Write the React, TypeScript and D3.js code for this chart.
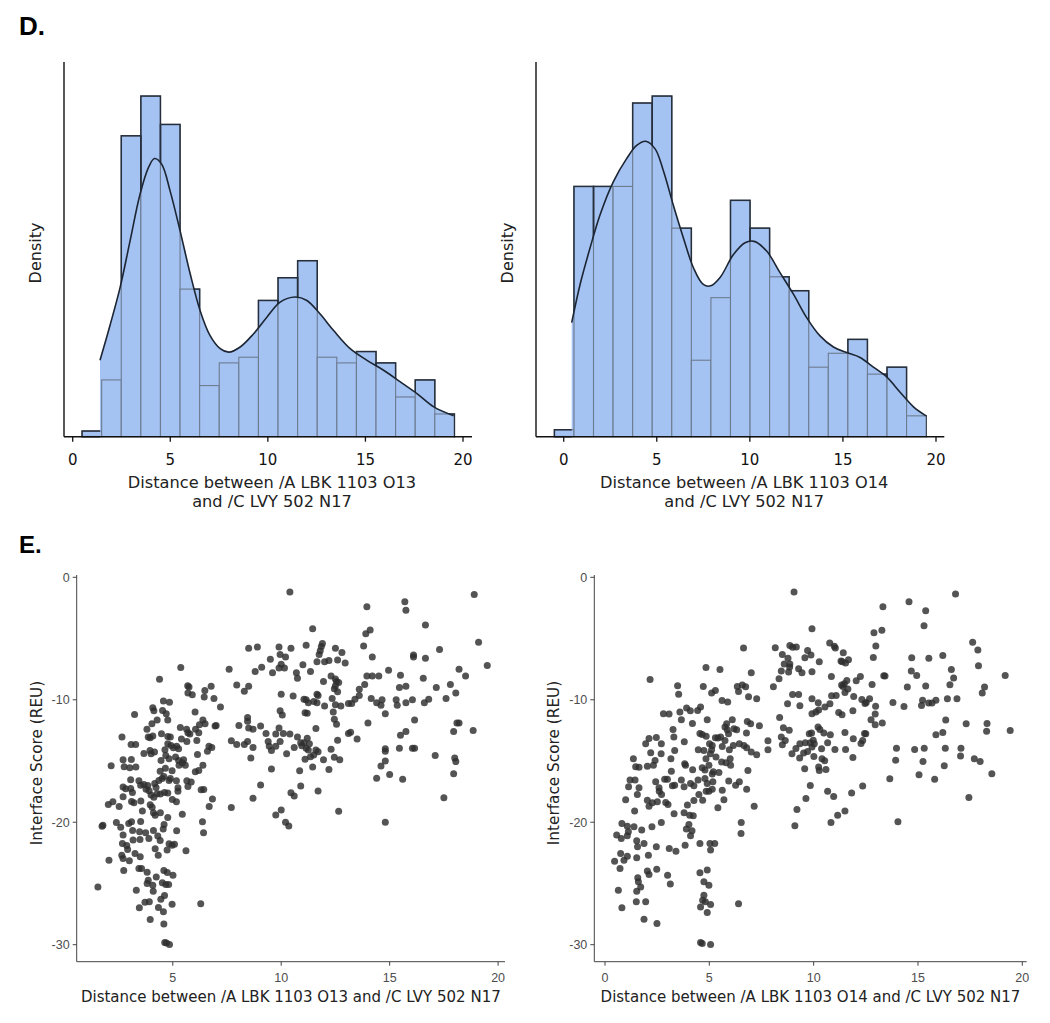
import React from "react";
import * as d3 from "d3";

document.body.style.margin = "0";

// ---------- data ----------
const histTicks = [0, 5, 10, 15, 20];
const scatterYTicks = [0, -10, -20, -30];
const o13XTicks = [5, 10, 15, 20];
const o14XTicks = [0, 5, 10, 15, 20];

// histogram bins (counts per bin), O13
const o13BinRange = [0.48, 19.56];
const o13Counts = [1, 10, 53, 60, 55, 26, 9, 13, 14, 24, 28, 31, 14, 13, 15, 13, 7, 10, 4];
// density curve, same units as counts
const o13Kde: [number, number][] = [
  [1.4, 13.45], [1.91, 19.6], [2.43, 26.3], [2.94, 34.5], [3.45, 42.7], [3.88, 47.4],
  [4.19, 49.0], [4.56, 48.0], [4.99, 43.3], [5.5, 36.3], [6.02, 28.7], [6.53, 22.2],
  [7.04, 17.8], [7.56, 15.5], [8.0, 14.9], [8.58, 15.8], [9.26, 18.1], [9.95, 21.05],
  [10.63, 23.7], [11.4, 24.6], [12.0, 24.0], [12.68, 21.6], [13.37, 18.7], [14.22, 15.5],
  [15.08, 13.45], [15.93, 11.7], [16.79, 9.65], [17.64, 7.6], [18.5, 5.26], [19.52, 3.7],
];

// O14
const o14BinRange = [-0.5, 19.47];
const o14Counts = [1, 36, 36, 36, 48, 49, 30, 11, 20, 34, 30, 23, 21, 10, 12, 14, 9, 10, 3];
const o14Kde: [number, number][] = [
  [0.43, 16.4], [0.88, 21.9], [1.41, 27.1], [1.95, 31.9], [2.67, 36.7], [3.38, 40.0],
  [3.92, 41.9], [4.41, 42.5], [4.91, 41.4], [5.35, 38.3], [5.89, 33.3], [6.43, 28.6],
  [6.97, 24.3], [7.5, 21.9], [7.9, 21.7], [8.4, 22.9], [9.12, 26.2], [9.74, 27.9],
  [10.23, 28.1], [10.9, 26.7], [11.62, 23.6], [12.34, 20.5], [13.06, 17.1], [13.77, 14.5],
  [14.49, 12.9], [15.2, 12.1], [15.92, 11.4], [16.64, 10.0], [17.35, 8.6], [18.07, 6.4],
  [18.79, 4.3], [19.47, 3.0],
];

// scatter: [distance, interface score]
const o13Points: [number, number][] = [
  [5.37,-7.36],[4.39,-8.33],[5.69,-8.86],[5.75,-8.95],[5.7,-9.45],[5.9,-9.6],[6.48,-9.25],[6.77,-8.9],
  [6.45,-9.78],[6.9,-9.9],[7.2,-10.6],[4.57,-10.1],[4.85,-10.2],[3.24,-11.2],[4.08,-10.65],[4.13,-10.9],
  [4.53,-10.87],[4.7,-11.15],[4.77,-11.65],[6.03,-11.0],[4.28,-11.65],[4.04,-11.95],[3.81,-12.4],[3.87,-13.05],
  [3.96,-13.1],[4.08,-12.95],[4.48,-12.78],[4.77,-13.0],[4.89,-13.05],[5.35,-12.27],[5.64,-12.4],[5.79,-12.8],
  [6.05,-12.4],[6.23,-12.05],[6.39,-11.65],[6.49,-11.95],[7.0,-12.1],[6.95,-12.15],[6.2,-12.7],[6.11,-13.33],
  [5.7,-12.7],[5.65,-13.4],[5.4,-13.2],[2.66,-13.05],[3.08,-13.65],[3.29,-13.65],[3.67,-14.38],[3.95,-14.14],
  [4.0,-14.4],[4.16,-14.27],[4.64,-14.08],[4.77,-13.6],[4.92,-13.73],[5.03,-13.92],[5.18,-13.8],[4.68,-14.55],
  [4.83,-14.82],[5.13,-14.68],[5.27,-14.0],[5.5,-14.9],[6.14,-14.47],[6.6,-14.2],[6.67,-13.8],[6.8,-13.9],
  [2.71,-14.9],[3.09,-14.87],[4.46,-14.95],[5.27,-14.95],[5.44,-15.15],
  [2.16,-15.39],[2.76,-15.47],[3.02,-15.55],[3.3,-15.5],[4.42,-15.83],[4.66,-15.6],[4.97,-15.8],[5.29,-15.34],
  [5.58,-15.34],[6.04,-15.88],[6.2,-15.77],[6.39,-15.34],[4.59,-16.26],[4.89,-16.42],[3.06,-16.53],[3.44,-16.61],
  [2.71,-17.13],[2.83,-17.27],[3.06,-17.24],[3.14,-17.57],[3.52,-16.97],[3.67,-16.91],[3.85,-17.0],[3.77,-17.3],
  [3.91,-17.43],[4.0,-17.78],[4.17,-16.83],[4.23,-17.16],[4.36,-16.59],[4.51,-16.42],[4.83,-16.59],[5.17,-16.61],
  [5.24,-17.19],[5.24,-17.46],[5.65,-16.61],[5.85,-16.72],[5.7,-17.08],[6.31,-17.35],[6.43,-17.32],[6.83,-18.11],
  [6.68,-18.71],[4.28,-17.68],[4.43,-17.7],[4.62,-17.57],[4.77,-17.62],[4.98,-18.14],[5.17,-18.33],[4.13,-17.95],
  [2.71,-17.92],[3.1,-18.3],[3.21,-18.41],[3.53,-18.27],[2.03,-18.55],[2.24,-18.33],[2.53,-18.71],[3.96,-18.57],
  [4.05,-18.77],[3.6,-19.09],[4.11,-19.23],[4.19,-19.42],[4.43,-19.23],[4.77,-19.61],[5.44,-19.34],[1.74,-20.32],
  [1.78,-20.24],[2.4,-20.02],[2.6,-20.4],[2.97,-20.1],[3.1,-19.97],[3.52,-19.94],[3.15,-20.67],[3.47,-20.78],
  [3.75,-20.86],[4.11,-20.67],[4.6,-20.19],[4.56,-20.56],[5.18,-20.7],[4.31,-21.13],[4.42,-21.49],[3.9,-21.32],
  [3.49,-21.41],[3.17,-21.46],[2.71,-21.05],[2.68,-21.73],[2.88,-21.9],[2.92,-22.22],[4.83,-21.76],[4.97,-21.87],
  [5.08,-21.79],[4.74,-22.27],[4.19,-22.17],[5.61,-22.33],[2.65,-22.69],[2.71,-22.96],[3.0,-23.15],[3.26,-22.55],
  [3.5,-22.82],[4.33,-22.69],[2.06,-23.1],[2.74,-23.94],[3.44,-23.78],[3.56,-23.78],[3.82,-24.08],[4.59,-23.94],
  [4.75,-24.1],[5.01,-24.32],[3.87,-24.73],[4.24,-24.48],[3.82,-25.0],[4.08,-25.14],[4.52,-24.95],[4.68,-25.08],
  [4.81,-25.08],[4.1,-25.63],[4.62,-25.98],[4.45,-26.28],[1.55,-25.28],[3.32,-25.55],[3.72,-26.53],[3.92,-26.5],
  [3.46,-26.99],[4.34,-26.96],[4.57,-27.31],[4.97,-26.69],[6.29,-26.66],[3.96,-27.94],[4.59,-28.3],[4.63,-29.82],
  [4.71,-29.87],[4.85,-29.98],[6.37,-19.97],[6.42,-20.86],
  [10.4,-1.2],[18.9,-1.4],[13.95,-2.4],[15.7,-2.0],[15.75,-2.7],[16.65,-3.9],[11.45,-4.2],[13.9,-4.6],
  [14.1,-4.3],[19.1,-5.3],[13.8,-5.6],[17.3,-5.9],[8.5,-5.8],[8.9,-5.7],[9.9,-5.7],[10.45,-5.8],
  [11.15,-5.55],[11.9,-5.4],[11.85,-5.65],[11.8,-6.0],[11.75,-6.3],[12.5,-5.8],[12.8,-6.15],[16.1,-6.35],
  [16.1,-6.5],[16.65,-6.6],[14.2,-6.5],[9.5,-6.7],[9.95,-6.3],[10.2,-6.5],[11.65,-6.9],[12.0,-6.9],
  [12.2,-6.8],[12.6,-6.75],[12.95,-7.0],[10.0,-7.1],[10.15,-7.4],[9.9,-7.4],[11.0,-7.15],[19.5,-7.2],
  [7.6,-7.5],[9.1,-7.35],[8.8,-7.7],[9.6,-7.8],[10.7,-7.8],[11.35,-7.7],[14.95,-7.6],[18.2,-7.5],
  [10.75,-8.25],[12.3,-8.05],[12.5,-8.3],[11.95,-8.5],[13.95,-8.05],[14.2,-8.05],[14.5,-8.05],[15.5,-8.0],
  [16.55,-8.25],[18.5,-8.05],[7.95,-8.8],[8.5,-8.9],[8.3,-9.3],[12.55,-8.5],[12.5,-8.85],[12.65,-8.6],
  [12.45,-9.1],[12.6,-9.35],[13.85,-8.75],[13.6,-9.15],[15.45,-9.0],[15.75,-8.9],[17.15,-9.0],[17.8,-8.75],
  [10.0,-9.55],[10.55,-9.7],[11.05,-9.95],[11.25,-10.25],[11.65,-9.55],[11.7,-9.65],[11.5,-10.15],[11.65,-10.25],
  [12.0,-10.5],[12.35,-9.9],[12.5,-10.4],[12.75,-10.5],[13.1,-10.3],[13.25,-10.3],[13.4,-9.95],[13.6,-9.65],
  [14.15,-9.9],[14.4,-10.25],[14.6,-10.45],[14.65,-10.0],[14.8,-11.15],[15.3,-10.0],[15.35,-10.45],[15.75,-10.25],
  [16.05,-10.0],[16.6,-10.25],[16.8,-9.95],[17.6,-9.9],[18.05,-9.45],[16.15,-11.65],[15.75,-12.6],[15.5,-12.9],
  [15.45,-13.95],[16.05,-13.95],[16.15,-13.95],[14.8,-14.0],[14.8,-14.2],[14.8,-15.0],[14.6,-15.4],[14.4,-16.4],
  [15.0,-16.1],[15.6,-16.5],[14.8,-20.0],[14.0,-11.9],[18.1,-11.9],[18.2,-11.9],[17.95,-12.6],[18.85,-12.5],
  [17.1,-14.55],[18.0,-14.75],[18.05,-15.05],[17.95,-16.05],[17.5,-18.0],[13.2,-12.65],[13.1,-12.75],[13.5,-13.2],
  [12.4,-11.0],[12.45,-11.6],[12.55,-12.0],[12.6,-13.3],[12.3,-14.05],[12.45,-14.7],[12.7,-14.9],[12.65,-19.1],
  [11.15,-10.0],[11.1,-11.05],[11.2,-11.1],[11.6,-12.35],[11.2,-13.15],[11.05,-13.5],[11.3,-13.6],[11.15,-13.95],
  [11.25,-14.1],[11.6,-14.1],[11.7,-14.25],[11.5,-14.5],[11.35,-14.65],[11.1,-14.85],[11.45,-15.5],[11.95,-14.9],
  [12.2,-15.7],[11.7,-17.45],[10.95,-13.75],[10.9,-13.5],[10.6,-13.9],[10.75,-13.05],[10.25,-14.4],[10.4,-12.8],
  [10.1,-12.75],[9.9,-12.3],[9.75,-12.8],[9.95,-10.9],[10.05,-11.25],[9.4,-13.4],[9.45,-13.8],[9.75,-13.8],
  [9.95,-13.4],[9.3,-12.75],[9.05,-12.15],[9.55,-14.15],[9.55,-15.65],[9.05,-16.95],[10.85,-15.8],[10.9,-17.05],
  [10.45,-17.6],[10.6,-17.85],[9.75,-19.4],[10.0,-19.0],[10.2,-20.0],[10.35,-20.3],[8.7,-18.05],[7.7,-18.8],
  [8.7,-12.4],[8.45,-11.45],[8.45,-11.75],[8.5,-12.3],[8.7,-13.9],[8.45,-13.4],[8.3,-13.65],[8.6,-14.75],
  [8.05,-12.1],[7.7,-13.35],[7.95,-13.65],
];

const o14Points: [number, number][] = [
  [6.64,-5.78],[4.84,-7.36],[5.51,-7.52],[2.16,-8.34],[7.01,-7.79],[3.48,-8.86],[3.53,-9.54],[4.71,-8.91],
  [5.11,-9.45],[5.29,-9.24],[6.34,-8.91],[6.58,-8.8],[6.74,-8.94],[6.4,-9.32],[6.88,-9.75],[7.27,-9.92],
  [5.61,-10.05],[5.88,-10.19],[2.8,-11.14],[3.07,-11.17],[3.59,-11.0],[3.91,-10.68],[4.09,-10.9],[4.44,-10.87],
  [4.58,-10.6],[3.66,-11.63],[4.19,-11.93],[4.9,-11.63],[5.83,-11.96],[6.1,-11.63],[5.75,-12.23],[5.86,-12.45],
  [6.18,-12.37],[6.31,-12.45],[5.92,-12.78],[6.82,-11.77],[6.98,-11.96],[6.78,-12.72],[7.4,-12.12],[3.26,-12.42],
  [3.3,-13.05],[3.8,-13.43],[4.55,-12.75],[4.66,-12.83],[4.85,-12.97],[5.29,-13.1],[5.41,-13.13],[5.54,-13.05],
  [5.75,-13.32],[5.01,-13.59],[5.14,-13.73],[5.11,-14.08],[5.05,-14.41],[5.62,-13.81],[5.96,-14.08],[6.15,-13.73],
  [6.44,-13.59],[6.66,-13.73],[6.79,-13.92],[7.01,-14.27],[7.27,-14.49],[4.74,-14.14],[4.47,-14.08],[4.84,-14.82],
  [5.32,-14.68],[5.59,-15.09],[5.8,-15.15],[6.0,-14.82],[3.34,-14.14],[3.82,-15.23],[3.16,-14.82],[2.7,-13.59],
  [2.46,-13.08],[2.11,-13.16],[1.95,-13.59],[2.19,-14.33],[2.69,-14.41],[1.36,-14.82],[2.4,-14.95],
  [1.47,-15.47],[1.63,-15.52],[2.03,-15.42],[2.32,-15.34],[3.18,-15.83],[3.86,-15.34],[4.2,-15.72],[4.66,-15.55],
  [4.79,-15.74],[4.98,-15.34],[5.19,-15.88],[5.46,-15.93],[6.02,-15.34],[6.85,-15.77],[1.2,-16.56],[1.44,-16.56],
  [1.13,-17.1],[1.63,-17.19],[2.43,-16.7],[2.59,-17.19],[2.86,-16.48],[2.99,-16.48],[2.6,-17.46],[2.71,-17.73],
  [3.23,-17.02],[3.34,-16.97],[3.66,-16.56],[3.79,-17.1],[4.1,-16.83],[4.26,-17.02],[4.46,-16.56],[4.79,-16.42],
  [4.9,-16.83],[5.14,-16.07],[5.17,-16.7],[4.85,-17.46],[4.98,-17.46],[5.14,-17.3],[5.62,-17.38],[5.93,-16.64],
  [6.26,-16.97],[6.44,-16.7],[6.79,-17.3],[5.7,-18.17],[5.41,-18.82],[0.99,-18.17],[1.55,-17.73],[1.42,-19.09],
  [2.03,-18.2],[2.11,-18.69],[2.27,-18.41],[2.51,-18.33],[2.91,-18.39],[3.02,-18.55],[3.31,-19.31],[3.79,-19.23],
  [3.95,-18.6],[4.06,-19.42],[4.23,-19.47],[4.26,-18.22],[4.68,-18.2],[4.5,-17.73],[4.02,-20.18],[3.9,-20.56],
  [4.17,-20.7],[4.1,-21.11],[2.25,-20.37],[2.7,-20.02],[0.81,-20.1],[1.07,-20.32],[1.12,-20.78],[1.39,-20.37],
  [1.76,-20.64],[0.56,-21.05],[0.78,-21.32],[1.07,-21.11],[1.52,-21.52],[1.87,-21.73],[1.56,-22.0],[2.46,-22.0],
  [3.08,-22.14],[3.4,-22.36],[3.84,-21.87],[4.55,-21.73],[5.03,-21.73],[5.26,-21.73],[5.06,-22.27],[0.75,-22.55],
  [0.91,-23.1],[1.07,-22.77],[0.46,-23.18],[0.72,-23.78],[1.52,-22.9],[2.08,-22.69],[2.03,-23.99],[2.11,-24.26],
  [2.48,-23.83],[1.57,-24.54],[1.6,-24.87],[1.71,-25.28],[3.0,-24.32],[3.13,-25.05],[4.55,-24.13],[4.9,-23.91],
  [4.74,-24.87],[4.98,-25.14],[4.74,-25.96],[4.68,-26.37],[4.81,-26.5],[4.58,-26.93],[5.06,-26.72],[4.9,-27.37],
  [0.64,-25.55],[0.81,-26.99],[1.52,-25.63],[1.5,-26.5],[1.95,-26.5],[1.87,-27.92],[2.49,-28.27],[4.58,-29.82],
  [4.66,-29.9],[5.06,-29.98],[6.4,-26.66],[6.53,-20.02],[6.52,-20.92],[7.15,-18.7],
  [9.06,-1.2],[16.8,-1.37],[14.57,-2.0],[15.37,-2.73],[13.32,-2.4],[15.29,-3.95],[9.92,-4.2],[12.89,-4.52],
  [13.27,-4.33],[12.98,-5.6],[12.86,-6.54],[17.62,-5.31],[17.87,-5.94],[17.9,-7.22],[19.18,-8.01],[18.19,-8.96],
  [18.08,-9.45],[16.19,-6.38],[15.52,-6.6],[14.7,-6.57],[14.68,-7.66],[14.94,-8.01],[16.6,-7.52],[16.71,-8.23],
  [16.53,-8.77],[15.37,-8.88],[14.49,-8.96],[13.42,-8.06],[13.36,-8.04],[16.41,-9.92],[16.87,-9.92],[15.86,-10.03],
  [15.67,-10.27],[15.51,-10.27],[15.22,-10.03],[15.17,-10.46],[14.33,-10.54],[13.8,-10.22],[13.29,-11.9],[12.95,-12.04],
  [12.95,-11.17],[12.75,-11.63],[16.33,-11.66],[17.31,-11.96],[18.31,-11.93],[18.29,-12.58],[19.42,-12.5],[16.19,-12.67],
  [15.86,-12.86],[13.97,-13.95],[14.84,-14.06],[15.3,-13.95],[16.31,-13.95],[17.06,-13.95],[17.04,-14.6],[17.7,-14.82],
  [17.98,-15.04],[18.54,-16.04],[13.93,-14.93],[15.24,-15.04],[16.26,-15.39],[15.05,-16.13],[15.8,-16.5],[13.65,-16.45],
  [17.44,-17.98],[14.04,-19.97],[12.35,-17.05],[11.82,-17.62],[11.5,-19.09],[11.15,-19.42],[10.83,-20.02],[10.96,-17.9],
  [10.67,-17.46],[9.84,-17.0],[9.63,-18.06],[9.2,-18.96],[9.1,-20.29],[7.81,-13.35],[7.81,-14.08],[8.07,-8.94],
  [8.34,-8.29],[8.45,-7.66],[8.16,-5.75],[8.5,-6.3],[8.77,-6.62],[8.59,-7.08],[8.86,-7.08],[8.85,-7.33],
  [8.8,-7.74],[8.86,-5.56],[8.99,-5.72],[9.17,-5.7],[9.28,-7.47],[9.44,-7.79],[9.58,-6.57],[9.71,-5.97],
  [9.87,-6.35],[9.92,-7.71],[10.27,-6.9],[10.77,-5.37],[10.99,-5.64],[11.04,-5.78],[11.42,-6.16],[11.31,-6.84],
  [11.37,-6.9],[11.67,-6.73],[11.53,-7.0],[10.85,-8.09],[8.99,-9.56],[9.28,-9.56],[8.75,-10.32],[9.34,-10.49],
  [8.37,-11.44],[8.55,-12.29],[8.83,-12.48],[8.45,-13.05],[8.64,-13.32],[8.5,-13.67],[8.96,-14.41],[9.15,-13.97],
  [9.34,-13.6],[9.33,-14.76],[9.6,-13.51],[9.79,-12.78],[9.9,-12.72],[9.84,-13.51],[9.98,-13.3],[9.92,-13.86],
  [10.03,-13.6],[9.52,-14.35],[9.71,-14.22],[10.01,-14.63],[9.57,-15.64],[10.24,-15.5],[10.27,-15.77],[10.38,-14.0],
  [10.4,-14.82],[10.53,-14.98],[10.59,-15.69],[10.21,-12.23],[10.3,-12.42],[10.49,-12.72],[10.67,-13.51],[10.8,-12.86],
  [11.02,-14.06],[11.53,-14.06],[11.9,-13.19],[11.88,-14.71],[11.5,-12.67],[11.88,-10.9],[12.31,-9.97],[12.46,-10.3],
  [12.52,-10.22],[12.68,-9.92],[12.8,-8.75],[12.97,-10.52],[12.35,-13.32],[12.44,-12.75],[12.5,-12.78],[12.27,-13.57],
  [11.92,-9.73],[11.59,-8.42],[11.47,-8.69],[11.4,-8.91],[11.64,-9.13],[11.5,-9.4],[12.04,-8.45],[12.24,-8.09],
  [11.08,-9.65],[10.86,-9.67],[10.78,-10.33],[10.54,-10.6],[10.22,-10.24],[9.92,-9.92],[10.24,-10.84],[10.11,-11.0],
  [9.92,-11.14],[11.2,-11.03],[11.36,-11.22],[11.34,-8.8],
];

// ---------- layout ----------
const W = 1050;
const H = 1023;
const barFill = "#a4c3f2";
const barEdgeDark = "#262f3b";
const barEdgeLight = "#6d7b90";
const sans = "'DejaVu Sans', Verdana, sans-serif";
const helv = "'Liberation Sans', Arial, sans-serif";

type HistProps = {
  id: string;
  counts: number[];
  binRange: number[];
  kde: [number, number][];
  xRange: [number, number];
  axisLeft: number;
  axisRight: number;
  label1: string;
  label2: string;
  yLabelX: number;
};

const baseY = 436.7;
const topY = 62;

function Histogram(p: HistProps) {
  const x = d3.scaleLinear().domain([0, 20]).range(p.xRange);
  const maxC = d3.max(p.counts) as number;
  const y = d3.scaleLinear().domain([0, maxC * 1.1]).range([baseY, topY]);
  const edges = d3.range(p.counts.length + 1).map(
    (i) => p.binRange[0] + (i * (p.binRange[1] - p.binRange[0])) / p.counts.length
  );
  const curve = d3.curveCatmullRom.alpha(0.5);
  const line = d3
    .line<[number, number]>()
    .x((d) => x(d[0]))
    .y((d) => y(d[1]))
    .curve(curve);
  const under = d3
    .area<[number, number]>()
    .x((d) => x(d[0]))
    .y0(y(0))
    .y1((d) => y(d[1]))
    .curve(curve);
  const above = d3
    .area<[number, number]>()
    .x((d) => x(d[0]))
    .y0(0)
    .y1((d) => y(d[1]))
    .curve(curve);
  const k0 = x(p.kde[0][0]);
  const k1 = x(p.kde[p.kde.length - 1][0]);
  const cx = (p.axisLeft + p.axisRight) / 2 + 4;
  const bars = p.counts.map((c, i) => ({
    x: x(edges[i]),
    y: y(c),
    w: x(edges[i + 1]) - x(edges[i]),
    h: y(0) - y(c),
  }));
  return (
    <g>
      <defs>
        <clipPath id={`above-${p.id}`}>
          <path d={above(p.kde) || ""} />
          <rect x={0} y={0} width={k0} height={500} />
          <rect x={k1} y={0} width={600} height={500} />
        </clipPath>
      </defs>
      <path d={under(p.kde) || ""} fill={barFill} />
      {bars.map((b, i) => (
        <rect key={i} x={b.x} y={b.y} width={b.w} height={b.h} fill={barFill} stroke={barEdgeLight} strokeWidth={1.1} />
      ))}
      <g clipPath={`url(#above-${p.id})`}>
        {bars.map((b, i) => (
          <rect key={i} x={b.x} y={b.y} width={b.w} height={b.h} fill="none" stroke={barEdgeDark} strokeWidth={1.5} />
        ))}
      </g>
      <path d={line(p.kde) || ""} fill="none" stroke="#1c2533" strokeWidth={1.6} />
      <line x1={p.axisLeft} x2={p.axisLeft} y1={topY} y2={baseY} stroke="#111" strokeWidth={1.4} />
      <line x1={p.axisLeft} x2={p.axisRight} y1={baseY} y2={baseY} stroke="#111" strokeWidth={1.4} />
      {histTicks.map((t) => (
        <g key={t}>
          <line x1={x(t)} x2={x(t)} y1={baseY} y2={baseY + 5} stroke="#111" strokeWidth={1.3} />
          <text x={x(t)} y={464.5} textAnchor="middle" fontFamily={sans} fontSize={15} fill="#111">
            {t}
          </text>
        </g>
      ))}
      <text x={cx} y={488} textAnchor="middle" fontFamily={sans} fontSize={16.2} fill="#222">
        {p.label1}
      </text>
      <text x={cx} y={506.5} textAnchor="middle" fontFamily={sans} fontSize={16.2} fill="#222">
        {p.label2}
      </text>
      <text
        transform={`translate(${p.yLabelX},253) rotate(-90)`}
        textAnchor="middle"
        dominantBaseline="central"
        fontFamily={sans}
        fontSize={16}
        fill="#222"
      >
        Density
      </text>
    </g>
  );
}

type ScatterProps = {
  points: [number, number][];
  xTicks: number[];
  xRange: [number, number];
  axisLeft: number;
  axisRight: number;
  label: string;
  yLabelX: number;
};

const sTop = 575;
const sBottom = 961.7;

function Scatter(p: ScatterProps) {
  const x = d3.scaleLinear().domain([0, 20]).range(p.xRange);
  const y = d3.scaleLinear().domain([-30, 0]).range([944.7, 577.3]);
  return (
    <g>
      {p.points.map((d, i) => (
        <circle key={i} cx={x(d[0])} cy={y(d[1])} r={3.5} fill="#2e2e2e" fillOpacity={0.82} />
      ))}
      <line x1={p.axisLeft} x2={p.axisLeft} y1={sTop} y2={sBottom} stroke="#444" strokeWidth={1} />
      <line x1={p.axisLeft} x2={p.axisRight} y1={sBottom} y2={sBottom} stroke="#444" strokeWidth={1} />
      {scatterYTicks.map((t) => (
        <g key={t}>
          <line x1={p.axisLeft - 4} x2={p.axisLeft} y1={y(t)} y2={y(t)} stroke="#444" strokeWidth={1} />
          <text
            x={p.axisLeft - 7}
            y={y(t) + 4.3}
            textAnchor="end"
            fontFamily={helv}
            fontSize={12.5}
            fill="#4d4d4d"
          >
            {t}
          </text>
        </g>
      ))}
      {p.xTicks.map((t) => (
        <g key={t}>
          <line x1={x(t)} x2={x(t)} y1={sBottom} y2={sBottom + 4} stroke="#444" strokeWidth={1} />
          <text x={x(t)} y={982} textAnchor="middle" fontFamily={helv} fontSize={12.5} fill="#4d4d4d">
            {t}
          </text>
        </g>
      ))}
      <text
        x={(p.axisLeft + p.axisRight) / 2}
        y={1002}
        textAnchor="middle"
        fontFamily={sans}
        fontSize={15}
        fill="#222"
      >
        {p.label}
      </text>
      <text
        transform={`translate(${p.yLabelX},763) rotate(-90)`}
        textAnchor="middle"
        dominantBaseline="central"
        fontFamily={sans}
        fontSize={15.3}
        fill="#222"
      >
        Interface Score (REU)
      </text>
    </g>
  );
}

export default function App() {
  return (
    <svg width={W} height={H} viewBox={`0 0 ${W} ${H}`} style={{ display: "block", background: "#fff" }}>
      <rect width={W} height={H} fill="#fff" />
      <text x={19} y={35} fontFamily={helv} fontWeight="bold" fontSize={26} fill="#000">
        D.
      </text>
      <text x={19} y={553} fontFamily={helv} fontWeight="bold" fontSize={24} fill="#000">
        E.
      </text>
      <Histogram
        id="o13"
        counts={o13Counts}
        binRange={o13BinRange}
        kde={o13Kde}
        xRange={[72.7, 463]}
        axisLeft={64}
        axisRight={472}
        label1="Distance between /A LBK 1103 O13"
        label2="and /C LVY 502 N17"
        yLabelX={35}
      />
      <Histogram
        id="o14"
        counts={o14Counts}
        binRange={o14BinRange}
        kde={o14Kde}
        xRange={[563.7, 936]}
        axisLeft={536}
        axisRight={944.3}
        label1="Distance between /A LBK 1103 O14"
        label2="and /C LVY 502 N17"
        yLabelX={507}
      />
      <Scatter
        points={o13Points}
        xTicks={o13XTicks}
        xRange={[64.3, 498.1]}
        axisLeft={76.7}
        axisRight={505}
        label="Distance between /A LBK 1103 O13 and /C LVY 502 N17"
        yLabelX={37}
      />
      <Scatter
        points={o14Points}
        xTicks={o14XTicks}
        xRange={[605, 1022.3]}
        axisLeft={594.3}
        axisRight={1026.7}
        label="Distance between /A LBK 1103 O14 and /C LVY 502 N17"
        yLabelX={554}
      />
    </svg>
  );
}
